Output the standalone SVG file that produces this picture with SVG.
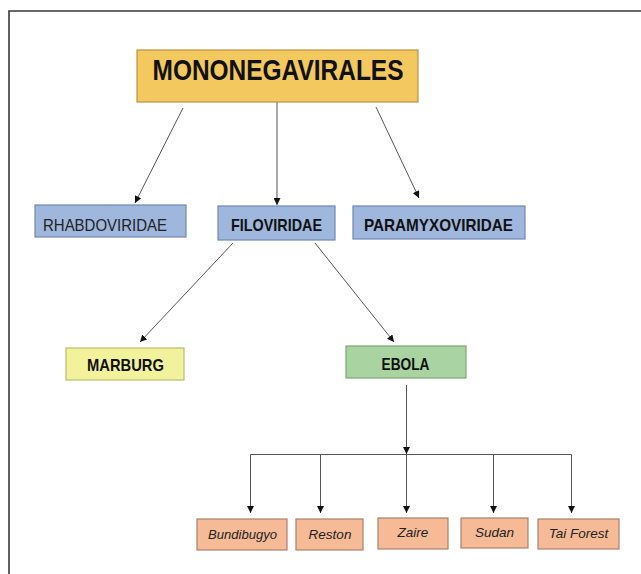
<svg xmlns="http://www.w3.org/2000/svg" width="641" height="574" viewBox="0 0 641 574">
<style>
.frame{stroke:#3a3a3a;stroke-width:1.6;fill:none}
.conn{stroke:#555;stroke-width:1;fill:none}
.box{stroke-width:1.2}
.top{fill:#f3c85f;stroke:#b99543}
.blue{fill:#9fb6dd;stroke:#7088b4}
.yel{fill:#f3f29c;stroke:#bdbb72}
.grn{fill:#a9d4a1;stroke:#79a873}
.sal{fill:#f6ba97;stroke:#a8826c}
.lb{font-family:"Liberation Sans",Arial,sans-serif;font-weight:bold;fill:#111;text-anchor:middle}
.lr{font-family:"Liberation Sans",Arial,sans-serif;fill:#222;text-anchor:middle}
.it{font-family:"Liberation Sans",Arial,sans-serif;font-style:italic;font-size:13.5px;fill:#222;text-anchor:middle}
</style>
<defs>
<marker id="ah" viewBox="0 0 10 10" refX="10" refY="5" markerWidth="7" markerHeight="7" orient="auto" markerUnits="userSpaceOnUse">
<path d="M0,0 L10,5 L0,10 z" fill="#111"/>
</marker>
</defs>
<rect width="641" height="574" fill="#fff"/>
<path class="frame" d="M9,574 V11 H641"/>
<g id="connectors">
<line class="conn" x1="183" y1="108" x2="135" y2="203" marker-end="url(#ah)"/>
<line class="conn" x1="277" y1="102" x2="277" y2="205" marker-end="url(#ah)"/>
<line class="conn" x1="376" y1="107" x2="419" y2="198" marker-end="url(#ah)"/>
<line class="conn" x1="233" y1="243" x2="140" y2="342" marker-end="url(#ah)"/>
<line class="conn" x1="315" y1="243" x2="394" y2="342" marker-end="url(#ah)"/>
<line class="conn" x1="406.5" y1="385" x2="406.5" y2="454" marker-end="url(#ah)"/>
<line class="conn" x1="250.5" y1="454.5" x2="571.5" y2="454.5"/>
<line class="conn" x1="250.5" y1="454.5" x2="250.5" y2="513" marker-end="url(#ah)"/>
<line class="conn" x1="320.5" y1="454.5" x2="320.5" y2="513" marker-end="url(#ah)"/>
<line class="conn" x1="406.5" y1="454.5" x2="406.5" y2="513" marker-end="url(#ah)"/>
<line class="conn" x1="493.5" y1="454.5" x2="493.5" y2="513" marker-end="url(#ah)"/>
<line class="conn" x1="571.5" y1="454.5" x2="571.5" y2="513" marker-end="url(#ah)"/>
</g>
<g id="mononegavirales">
<rect class="box top" x="137" y="50" width="281" height="52"/>
<text class="lb" x="278" y="80" font-size="30" textLength="251" lengthAdjust="spacingAndGlyphs">MONONEGAVIRALES</text>
</g>
<g id="rhabdoviridae">
<rect class="box blue" x="35" y="205" width="151" height="32"/>
<text class="lr" x="105" y="230.5" font-size="17" textLength="124" lengthAdjust="spacingAndGlyphs">RHABDOVIRIDAE</text>
</g>
<g id="filoviridae">
<rect class="box blue" x="218" y="206" width="117" height="34"/>
<text class="lb" x="276.5" y="231" font-size="17" textLength="91" lengthAdjust="spacingAndGlyphs">FILOVIRIDAE</text>
</g>
<g id="paramyxoviridae">
<rect class="box blue" x="353" y="206" width="172" height="33"/>
<text class="lb" x="438.5" y="231" font-size="17" textLength="149" lengthAdjust="spacingAndGlyphs">PARAMYXOVIRIDAE</text>
</g>
<g id="marburg">
<rect class="box yel" x="66" y="348" width="118" height="32"/>
<text class="lb" x="125.5" y="370.5" font-size="17" textLength="77" lengthAdjust="spacingAndGlyphs">MARBURG</text>
</g>
<g id="ebola">
<rect class="box grn" x="346" y="346" width="120" height="32"/>
<text class="lb" x="405.5" y="370" font-size="17" textLength="48" lengthAdjust="spacingAndGlyphs">EBOLA</text>
</g>
<g id="bundibugyo">
<rect class="box sal" x="197" y="519" width="90" height="31"/>
<text class="it" x="242.5" y="538.5" textLength="69" lengthAdjust="spacingAndGlyphs">Bundibugyo</text>
</g>
<g id="reston">
<rect class="box sal" x="296" y="519" width="67" height="31"/>
<text class="it" x="330" y="538.5">Reston</text>
</g>
<g id="zaire">
<rect class="box sal" x="378" y="518" width="70" height="31"/>
<text class="it" x="413" y="536.5">Zaire</text>
</g>
<g id="sudan">
<rect class="box sal" x="461" y="518" width="67" height="30"/>
<text class="it" x="494.5" y="536.5">Sudan</text>
</g>
<g id="tai-forest">
<rect class="box sal" x="538" y="519" width="81" height="30"/>
<text class="it" x="578.5" y="538">Tai Forest</text>
</g>
</svg>
